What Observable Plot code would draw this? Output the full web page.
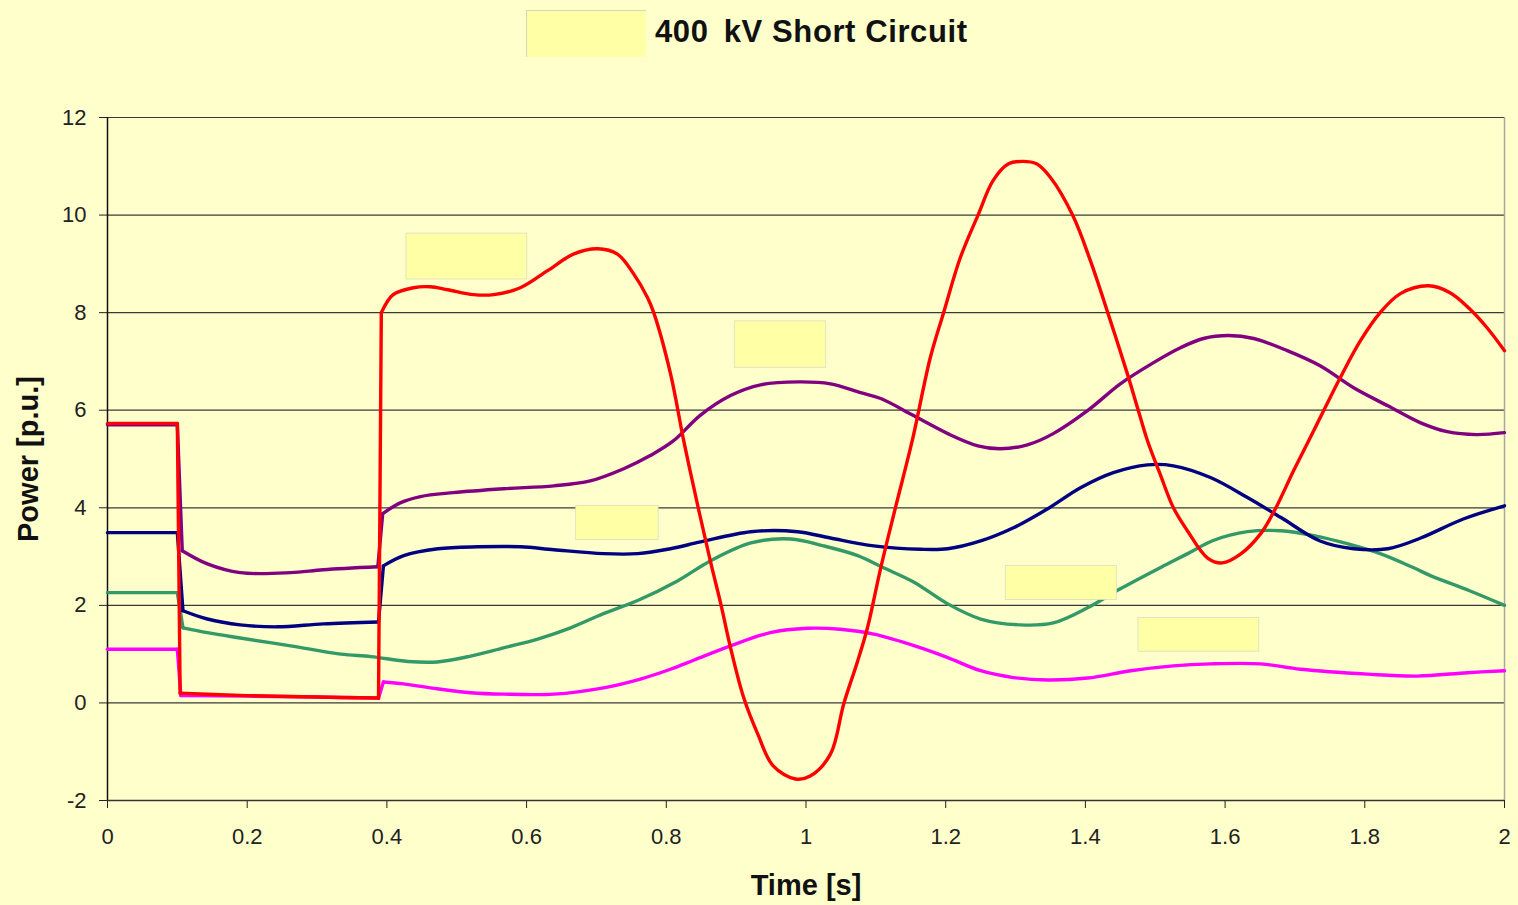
<!DOCTYPE html>
<html>
<head>
<meta charset="utf-8">
<script src="https://cdn.jsdelivr.net/npm/d3@7"></script>
<script src="https://cdn.jsdelivr.net/npm/@observablehq/plot@0.6"></script>
<style>
  html, body { margin: 0; padding: 0; background: #FFFFCC; }
  #wrap { position: relative; width: 1518px; height: 905px; overflow: hidden; background: #FFFFCC; }
  #chart { position: absolute; left: 0; top: 0; }
  #titleBox { position: absolute; left: 526px; top: 10px; width: 120px; height: 47px; background: #FFFFA6; border-top: 1px solid #d6d6b8; border-left: 1px solid #d6d6b8; box-sizing: border-box; }
  #titleText { position: absolute; left: 655px; top: 16px; font: bold 31px "Liberation Sans", Arial, sans-serif; line-height: 31px; color: #111; white-space: nowrap; letter-spacing: 0.6px; }
</style>
</head>
<body>
<div id="wrap">
  <div id="chart"></div>
  <div id="titleBox"></div>
  <div id="titleText"><span style="margin-right:6px">400</span> kV Short Circuit</div>
</div>
<script>
// ---- Data (time [s], power [p.u.]) ----
const xTicks = [0, 0.2, 0.4, 0.6, 0.8, 1, 1.2, 1.4, 1.6, 1.8, 2];
const yTicks = [-2, 0, 2, 4, 6, 8, 10, 12];

const curveRed = [
  [0, 5.73], [0.1, 5.73], [0.104, 0.2], [0.2, 0.15], [0.3, 0.12], [0.388, 0.1],
  [0.392, 8.0], [0.409, 8.37], [0.438, 8.51], [0.462, 8.53], [0.487, 8.47], [0.524, 8.37],
  [0.553, 8.37], [0.591, 8.51], [0.630, 8.86], [0.667, 9.2], [0.702, 9.31], [0.730, 9.2],
  [0.753, 8.8], [0.773, 8.31], [0.782, 8.0], [0.806, 6.75], [0.825, 5.37], [0.846, 3.98],
  [0.863, 2.91], [0.878, 2.03], [0.892, 1.13], [0.911, 0.1], [0.931, -0.64], [0.953, -1.29],
  [0.985, -1.56], [1.006, -1.5], [1.035, -1.05], [1.054, -0.02], [1.074, 0.86], [1.088, 1.54],
  [1.107, 2.77], [1.128, 4.0], [1.152, 5.37], [1.178, 7.08], [1.197, 8.0], [1.221, 9.13],
  [1.246, 9.99], [1.268, 10.71], [1.29, 11.05], [1.31, 11.1], [1.33, 11.05], [1.350, 10.77],
  [1.382, 9.99], [1.407, 9.07], [1.432, 8.0], [1.460, 6.75], [1.475, 6.03], [1.489, 5.37],
  [1.507, 4.69], [1.526, 4.0], [1.546, 3.53], [1.575, 2.97], [1.596, 2.87], [1.622, 3.05],
  [1.651, 3.47], [1.672, 3.98], [1.698, 4.76], [1.722, 5.44], [1.741, 5.99], [1.765, 6.67],
  [1.794, 7.43], [1.822, 8.0], [1.851, 8.39], [1.891, 8.55], [1.922, 8.41], [1.950, 8.08],
  [1.975, 7.69], [2.0, 7.22]
];

const curvePurple = [
  [0, 5.7], [0.1, 5.7], [0.107, 3.12], [0.143, 2.85], [0.19, 2.67], [0.262, 2.67], [0.309, 2.73],
  [0.387, 2.79], [0.394, 3.88], [0.419, 4.10], [0.448, 4.23], [0.495, 4.31], [0.567, 4.39],
  [0.639, 4.45], [0.691, 4.55], [0.739, 4.8], [0.777, 5.07], [0.810, 5.37], [0.849, 5.9],
  [0.892, 6.3], [0.935, 6.52], [0.99, 6.58], [1.035, 6.54], [1.078, 6.36], [1.107, 6.24],
  [1.154, 5.89], [1.203, 5.52], [1.246, 5.27], [1.278, 5.21], [1.317, 5.29], [1.354, 5.52],
  [1.403, 5.99], [1.450, 6.54], [1.497, 6.97], [1.536, 7.28], [1.569, 7.47], [1.605, 7.53],
  [1.641, 7.47], [1.689, 7.22], [1.736, 6.91], [1.784, 6.46], [1.833, 6.09], [1.880, 5.74],
  [1.918, 5.56], [1.960, 5.50], [2.0, 5.54]
];

const curveNavy = [
  [0, 3.49], [0.1, 3.49], [0.108, 1.89], [0.143, 1.72], [0.19, 1.60], [0.243, 1.56], [0.309, 1.62],
  [0.388, 1.66], [0.395, 2.81], [0.424, 3.02], [0.473, 3.16], [0.530, 3.2], [0.591, 3.2],
  [0.639, 3.14], [0.710, 3.06], [0.759, 3.06], [0.806, 3.16], [0.849, 3.3], [0.921, 3.51],
  [0.988, 3.51], [1.035, 3.38], [1.097, 3.22], [1.164, 3.15], [1.203, 3.16], [1.250, 3.32],
  [1.297, 3.59], [1.346, 3.98], [1.393, 4.41], [1.440, 4.72], [1.489, 4.88], [1.526, 4.86],
  [1.579, 4.62], [1.632, 4.21], [1.680, 3.80], [1.736, 3.32], [1.784, 3.16], [1.833, 3.16],
  [1.880, 3.38], [1.941, 3.77], [2.0, 4.04]
];

const curveGreen = [
  [0, 2.26], [0.1, 2.26], [0.108, 1.54], [0.143, 1.44], [0.19, 1.33], [0.262, 1.17], [0.334, 1.0],
  [0.377, 0.95], [0.43, 0.85], [0.472, 0.84], [0.52, 0.96], [0.567, 1.13], [0.616, 1.31],
  [0.663, 1.54], [0.71, 1.83], [0.759, 2.1], [0.816, 2.5], [0.863, 2.91], [0.921, 3.28],
  [0.978, 3.36], [1.025, 3.22], [1.074, 3.02], [1.111, 2.77], [1.154, 2.48], [1.203, 2.03],
  [1.250, 1.72], [1.307, 1.60], [1.354, 1.64], [1.403, 1.95], [1.450, 2.34], [1.512, 2.81],
  [1.545, 3.05], [1.583, 3.33], [1.632, 3.51], [1.680, 3.53], [1.727, 3.43], [1.776, 3.26],
  [1.822, 3.06], [1.870, 2.77], [1.894, 2.61], [1.95, 2.3], [2.0, 2.0]
];

const curveMagenta = [
  [0, 1.1], [0.1, 1.1], [0.105, 0.15], [0.2, 0.14], [0.3, 0.12], [0.388, 0.1], [0.395, 0.43],
  [0.424, 0.39], [0.472, 0.29], [0.52, 0.21], [0.567, 0.18], [0.639, 0.18], [0.71, 0.31],
  [0.763, 0.49], [0.806, 0.69], [0.840, 0.88], [0.892, 1.17], [0.949, 1.44], [1.002, 1.53],
  [1.049, 1.51], [1.097, 1.41], [1.16, 1.15], [1.203, 0.93], [1.25, 0.66], [1.297, 0.52],
  [1.346, 0.47], [1.403, 0.51], [1.465, 0.66], [1.526, 0.76], [1.579, 0.80], [1.651, 0.80],
  [1.708, 0.69], [1.804, 0.59], [1.875, 0.55], [1.947, 0.62], [2.0, 0.66]
];

// drawing order: first is drawn underneath
const seriesNames = ["S5", "S4", "S3", "S2", "S1"];
const seriesData = [curveMagenta, curveGreen, curveNavy, curvePurple, curveRed];
const seriesColors = ["#FF00FF", "#339966", "#000080", "#800080", "#FF0000"];

// blank label patches next to each curve (as in the reference), in data units
const labelBoxes = [
  { series: "S1", t1: 0.428, t2: 0.601, v1: 8.68, v2: 9.62 },
  { series: "S2", t1: 0.898, t2: 1.029, v1: 6.87, v2: 7.82 },
  { series: "S3", t1: 0.671, t2: 0.789, v1: 3.34, v2: 4.04 },
  { series: "S4", t1: 1.286, t2: 1.445, v1: 2.11, v2: 2.81 },
  { series: "S5", t1: 1.476, t2: 1.649, v1: 1.05, v2: 1.74 }
];

const xLabel = "Time [s]";
const yLabel = "Power [p.u.]";

// ---- Build: smooth segments + straight switching edges ----
const smoothRows = [];
const jumpRows = [];
seriesNames.forEach((name, i) => {
  const pts = seriesData[i];
  let seg = 0;
  pts.forEach(([t, v], k) => {
    smoothRows.push({ series: name, key: name + "-" + seg, t, v });
    const next = pts[k + 1];
    if (next && next[0] - t < 0.009) {
      jumpRows.push({ series: name, key: name + "-j" + seg, t, v });
      jumpRows.push({ series: name, key: name + "-j" + seg, t: next[0], v: next[1] });
      seg++;
    }
  });
});

const font = '"Liberation Sans", Arial, sans-serif';

const lineMarks = [];
for (const name of seriesNames) {
  lineMarks.push(Plot.line(jumpRows.filter(d => d.series === name), {
    x: "t", y: "v", z: "key", stroke: "series",
    strokeWidth: 3.4, curve: "linear", strokeLinecap: "round", strokeLinejoin: "round"
  }));
  lineMarks.push(Plot.line(smoothRows.filter(d => d.series === name), {
    x: "t", y: "v", z: "key", stroke: "series",
    strokeWidth: 3.4, curve: "catmull-rom", strokeLinecap: "round", strokeLinejoin: "round"
  }));
}

const chart = Plot.plot({
  width: 1518,
  height: 905,
  marginLeft: 107,
  marginRight: 14,
  marginTop: 117,
  marginBottom: 105,
  style: { background: "transparent", fontFamily: font, fontSize: "22px", color: "#222" },
  x: { domain: [0, 2] },
  y: { domain: [-2, 12] },
  color: { type: "ordinal", domain: seriesNames, range: seriesColors },
  marks: [
    Plot.ruleY(yTicks.filter(d => d > -2), { stroke: "#3a3a3a", strokeWidth: 1.2 }),
    Plot.ruleX([2], { stroke: "#a8a8a0", strokeWidth: 1.5 }),
    Plot.axisY({ ticks: yTicks, tickSize: 8, tickPadding: 13, tickFormat: d => String(d), label: null, fontSize: 22 }),
    Plot.axisX({ ticks: xTicks, tickSize: 8, tickPadding: 20, tickFormat: d => String(d), label: null, fontSize: 22 }),
    Plot.ruleX([0], { stroke: "#111", strokeWidth: 1.5 }),
    Plot.ruleY([-2], { stroke: "#333", strokeWidth: 1.5 }),
    ...lineMarks,
    Plot.rect(labelBoxes, {
      x1: "t1", x2: "t2", y1: "v1", y2: "v2",
      fill: "#FFFFA6", stroke: "#dcdcc0", strokeWidth: 0.8
    }),
    Plot.text([yLabel], { frameAnchor: "left", dx: -79, rotate: -90, textAnchor: "middle", lineAnchor: "middle", fontSize: 29, fontWeight: "bold", fill: "#111", fontFamily: font }),
    Plot.text([xLabel], { frameAnchor: "bottom", dy: 85, textAnchor: "middle", lineAnchor: "middle", fontSize: 29, fontWeight: "bold", fill: "#111", fontFamily: font })
  ]
});

document.getElementById("chart").appendChild(chart);
</script>
</body>
</html>
